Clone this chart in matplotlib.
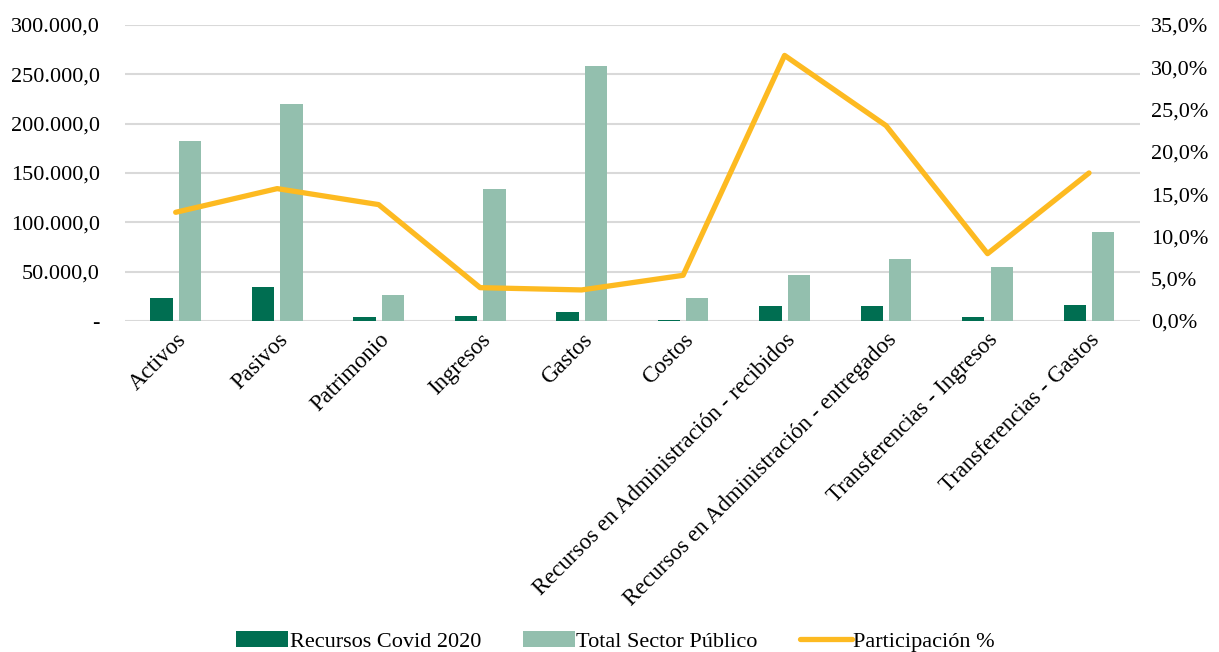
import matplotlib
matplotlib.use("Agg")
import matplotlib.pyplot as plt
import numpy as np
from matplotlib.ticker import FuncFormatter, MultipleLocator

plt.rcParams["font.family"] = ["Liberation Serif", "DejaVu Serif"]

# datos
categorias = ["Activos", "Pasivos", "Patrimonio", "Ingresos", "Gastos", "Costos",
              "Recursos en Administración - recibidos",
              "Recursos en Administración - entregados",
              "Transferencias - Ingresos", "Transferencias - Gastos"]
covid = [23300, 34100, 3600, 5100, 9100, 1300, 14700, 14800, 4500, 15900]
total = [182100, 219600, 26700, 133400, 258100, 23600, 46300, 63200, 55100, 90200]
participacion = [12.85, 15.65, 13.76, 3.94, 3.67, 5.4, 31.4, 23.1, 7.96, 17.5]

c_dark = "#006e51"
c_light = "#93bfae"
c_line = "#fdba21"
c_grid = "#d9d9d9"

fig = plt.figure(figsize=(12.19, 6.52), dpi=100)
ax = fig.add_axes([0.1025, 0.5077, 0.8325, 0.454])
ax2 = ax.twinx()

x = np.arange(len(categorias))
w = 0.22
ax.bar(x - 0.14, covid, w, color=c_dark, label="Recursos Covid 2020", zorder=2)
ax.bar(x + 0.14, total, w, color=c_light, label="Total Sector Público", zorder=2)
ax2.plot(x, participacion, color=c_line, lw=3.8, solid_capstyle="round",
         label="Participación %", zorder=3)

ax.set_xlim(-0.5, len(categorias) - 0.5)
ax.set_ylim(0, 300000)
ax2.set_ylim(0, 35)
ax.yaxis.set_major_locator(MultipleLocator(50000))
ax2.yaxis.set_major_locator(MultipleLocator(5))


def fmt_miles(v, pos):
    if v == 0:
        return "-"
    return f"{v:,.1f}".replace(",", "X").replace(".", ",").replace("X", ".")


ax.yaxis.set_major_formatter(FuncFormatter(fmt_miles))
ax2.yaxis.set_major_formatter(FuncFormatter(lambda v, p: f"{v:.1f}%".replace(".", ",")))

ax.grid(axis="y", color=c_grid, lw=1.5, zorder=0)
ax.set_axisbelow(True)
for a in (ax, ax2):
    for s in a.spines.values():
        s.set_visible(False)
    a.tick_params(length=0, labelsize=16)
ax.tick_params(axis="y", pad=18)
ax2.tick_params(axis="y", pad=8)

ax.set_xticks(x)
ax.set_xticklabels(categorias, rotation=45, ha="right", rotation_mode="anchor")
ax.tick_params(axis="x", pad=6, labelsize=16.5)

h1, l1 = ax.get_legend_handles_labels()
h2, l2 = ax2.get_legend_handles_labels()
fig.legend(h1 + h2, l1 + l2, loc="lower center", ncol=3, frameon=False,
           fontsize=16, bbox_to_anchor=(0.505, -0.03), handlelength=2.35,
           handletextpad=0.05, columnspacing=1.9)

fig.savefig("out.png", dpi=100)
